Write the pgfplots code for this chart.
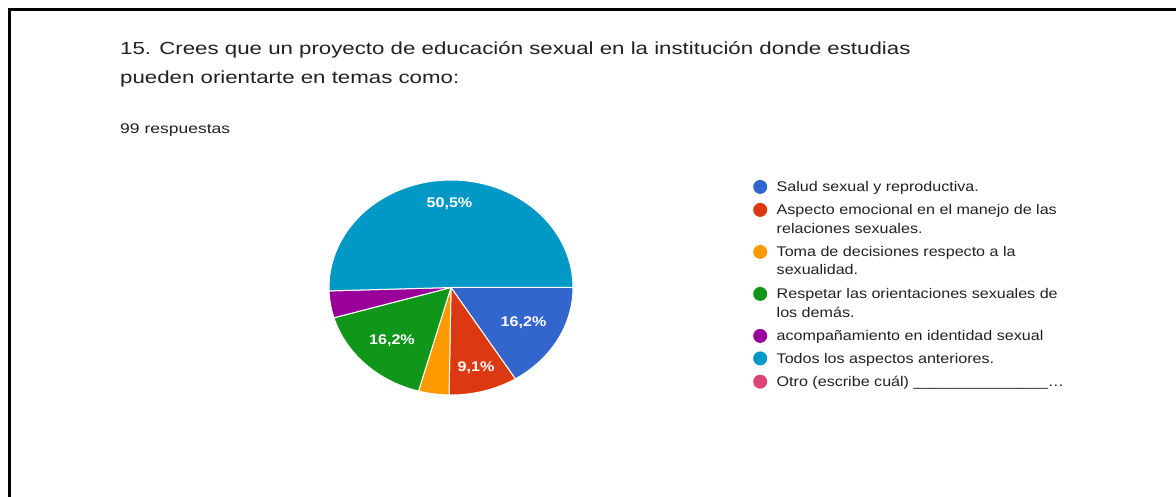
\documentclass[border=0pt]{standalone}
\usepackage{pgfplots}
\pgfplotsset{compat=1.18}
\usepackage{fontspec}
\setmainfont{Liberation Sans}
\usepackage{graphicx}

\definecolor{sblue}{HTML}{3366CC}
\definecolor{sred}{HTML}{DC3912}
\definecolor{sorange}{HTML}{FF9900}
\definecolor{sgreen}{HTML}{109618}
\definecolor{spurple}{HTML}{990099}
\definecolor{steal}{HTML}{0099C6}
\definecolor{spink}{HTML}{DD4477}
\definecolor{ink}{HTML}{202124}

% answers: 99 in total
\def\total{99}
\def\cum{0}
% \slice{count}{colour}{label radius (empty = no label)}
\newcommand\slice[3]{%
  \pgfmathsetmacro\sa{-\cum/\total*360}%
  \pgfmathsetmacro\nc{\cum+#1}%
  \xdef\cum{\nc}%
  \pgfmathsetmacro\sb{-\cum/\total*360}%
  \edef\temp{\noexpand\addplot[forget plot,fill=#2,draw=white,line width=1pt,
    domain=\sb:\sa,samples=90] ({cos(x)},{sin(x)}) -- (axis cs:0,0) -- cycle;}%
  \temp
  \ifx\relax#3\relax\else
    \pgfmathsetmacro\pct{#1/\total*100}%
    \pgfmathsetmacro\lx{#3*cos((\sa+\sb)/2)}%
    \pgfmathsetmacro\ly{#3*sin((\sa+\sb)/2)}%
    \edef\temp{\noexpand\node[pielab] at (axis cs:\lx,\ly)
      {\noexpand\scalebox{1.15}[1]{\noexpand\pgfmathprintnumber[fixed,fixed zerofill,precision=1,use comma,assume math mode=true]{\pct}\noexpand\%}};}%
    \temp
  \fi}

\newcommand\lt[1]{\scalebox{1.15}[1]{#1}}
% strut: 12pt above the baseline, #1 pt below it
\newcommand\st[1]{\rule[-#1pt]{0pt}{\dimexpr #1pt+12pt\relax}}

\tikzset{pielab/.style={text=white,font=\bfseries\fontsize{14}{16}\selectfont}}
\pgfplotsset{dot/.style={legend image code/.code={\fill[##1,draw=none] (6.5pt,5pt) circle (7pt);}}}

\begin{document}
\begin{tikzpicture}[x=1pt,y=1pt]
\fill[white] (0,0) rectangle (1176,497);
\fill[black] (8,0) rectangle (11,489);
\fill[black] (8,486) rectangle (1176,489);

\node[anchor=base west,inner sep=0pt,text=ink,font=\fontsize{17.5}{20}\selectfont] at (120,442)
  {\scalebox{1.272}[1]{15. Crees que un proyecto de educación sexual en la institución donde estudias}};
\node[anchor=base west,inner sep=0pt,text=ink,font=\fontsize{17.5}{20}\selectfont] at (120,413)
  {\scalebox{1.272}[1]{pueden orientarte en temas como:}};
\node[anchor=base west,inner sep=0pt,text=ink,font=\fontsize{14}{16}\selectfont] at (120,363)
  {\scalebox{1.25}[1]{99 respuestas}};

\begin{axis}[at={(329pt,102pt)},anchor=south west,
  scale only axis,width=244pt,height=215pt,
  xmin=-1,xmax=1,ymin=-1,ymax=1,
  hide axis,clip=false,
  legend cell align=left,
  legend style={at={(axis description cs:1.7377,1.0014)},anchor=north west,
    draw=none,fill=none,inner sep=0pt,row sep=0pt,column sep=9.5pt,
    cells={anchor=base west},
    nodes={inner sep=0pt,text depth=,text height=,text=ink,font=\fontsize{14}{16}\selectfont}},
]
\gdef\cum{0}
\slice{16}{sblue}{0.68}
\slice{9}{sred}{0.77}
\slice{4}{sorange}{}
\slice{16}{sgreen}{0.69}
\slice{4}{spurple}{}
\slice{50}{steal}{0.78}

\addlegendimage{dot,fill=sblue}
\addlegendentry{\lt{Salud sexual y reproductiva.}\st{11}}
\addlegendimage{dot,fill=sred}
\addlegendentry{\lt{Aspecto emocional en el manejo de las}\st{6.5}}
\addlegendimage{empty legend}
\addlegendentry{\lt{relaciones sexuales.}\st{11.5}}
\addlegendimage{dot,fill=sorange}
\addlegendentry{\lt{Toma de decisiones respecto a la}\st{6}}
\addlegendimage{empty legend}
\addlegendentry{\lt{sexualidad.}\st{12}}
\addlegendimage{dot,fill=sgreen}
\addlegendentry{\lt{Respetar las orientaciones sexuales de}\st{6.5}}
\addlegendimage{empty legend}
\addlegendentry{\lt{los demás.}\st{11.5}}
\addlegendimage{dot,fill=spurple}
\addlegendentry{\lt{acompañamiento en identidad sexual}\st{10.5}}
\addlegendimage{dot,fill=steal}
\addlegendentry{\lt{Todos los aspectos anteriores.}\st{11.3}}
\addlegendimage{dot,fill=spink}
\addlegendentry{\lt{Otro (escribe cuál) \_\_\_\_\_\_\_\_\_\_\_\_\_\_\_\ldots}\st{6}}
\end{axis}
\pgfresetboundingbox
\useasboundingbox (0,0) rectangle (1176,497);
\end{tikzpicture}
\end{document}
